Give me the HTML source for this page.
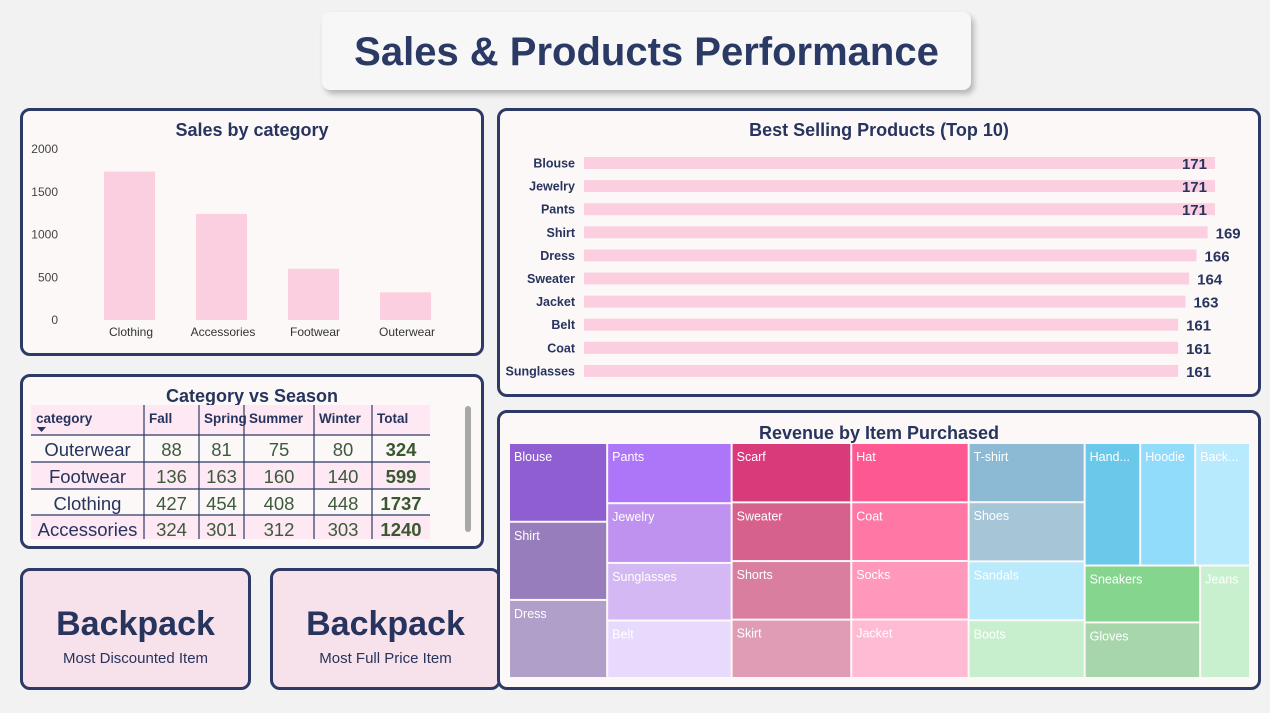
<!DOCTYPE html>
<html><head><meta charset="utf-8"><style>
body{margin:0;width:1270px;height:713px;background:#f2f2f2;font-family:"Liberation Sans",sans-serif;position:relative;overflow:hidden}
.panel{position:absolute;border:3px solid #2d3a66;border-radius:10px;background:#fdf8f8;box-sizing:border-box}
.ttl{position:absolute;left:0;right:0;text-align:center;font-weight:bold;color:#26345e;font-size:18px}
svg text{font-family:"Liberation Sans",sans-serif}
</style></head><body>
<div style="position:absolute;left:322px;top:12px;width:649px;height:78px;background:#f7f7f7;border-radius:8px;box-shadow:3px 4px 6px rgba(0,0,0,0.25);text-align:center;line-height:80px;font-size:40px;font-weight:bold;color:#2a3a64">Sales &amp; Products Performance</div>

<div class="panel" style="left:20px;top:108px;width:464px;height:248px">
<div class="ttl" style="top:9px">Sales by category</div></div>
<svg id="bar1" style="position:absolute;left:0;top:0" width="500" height="360"></svg>

<div class="panel" style="left:497px;top:108px;width:764px;height:289px">
<div class="ttl" style="top:9px">Best Selling Products (Top 10)</div></div>
<svg id="bar2" style="position:absolute;left:0;top:0" width="1270" height="400"></svg>

<div class="panel" style="left:20px;top:374px;width:464px;height:175px">
<div class="ttl" style="top:9px">Category vs Season</div></div>
<svg id="tbl" style="position:absolute;left:0;top:0" width="490" height="550"></svg>

<div class="panel" style="left:20px;top:568px;width:231px;height:122px;background:#f7e1ea;text-align:center">
<div style="margin-top:34px;font-size:34px;font-weight:bold;color:#26345e">Backpack</div>
<div style="margin-top:6px;font-size:15px;color:#26345e">Most Discounted Item</div></div>
<div class="panel" style="left:270px;top:568px;width:231px;height:122px;background:#f7e1ea;text-align:center">
<div style="margin-top:34px;font-size:34px;font-weight:bold;color:#26345e">Backpack</div>
<div style="margin-top:6px;font-size:15px;color:#26345e">Most Full Price Item</div></div>

<div class="panel" style="left:497px;top:410px;width:764px;height:280px">
<div class="ttl" style="top:10px">Revenue by Item Purchased</div></div>
<svg id="tm" style="position:absolute;left:0;top:0" width="1270" height="713"></svg>

<script>
const NS="http://www.w3.org/2000/svg";
function mk(p,t,a,txt){const e=document.createElementNS(NS,t);for(const k in a)e.setAttribute(k,a[k]);if(txt!==undefined)e.textContent=txt;p.appendChild(e);return e;}

// Sales by category
const catNames=["Clothing","Accessories","Footwear","Outerwear"];
const catSales=[1737,1240,599,324];
const yTicks=[0,500,1000,1500,2000];
(function(){const s=document.getElementById('bar1');const y=v=>320-v*171/2000;
yTicks.forEach(t=>{const e=mk(s,'text',{x:58,y:y(t)+4,'text-anchor':'end','font-size':12,fill:'#444'},t);});
catNames.forEach((c,i)=>{const x=104+i*92;const r=mk(s,'rect',{x:x,y:y(catSales[i]),width:51,height:320-y(catSales[i]),fill:'#fbcfe0'});

const l=mk(s,'text',{x:x+27,y:336,'text-anchor':'middle','font-size':12,fill:'#333'},c);});})();

// Best selling
const prodNames=["Blouse","Jewelry","Pants","Shirt","Dress","Sweater","Jacket","Belt","Coat","Sunglasses"];
const prodSales=[171,171,171,169,166,164,163,161,161,161];
(function(){const s=document.getElementById('bar2');const w=v=>v*631/171;
prodNames.forEach((p,i)=>{const yc=163+i*23.1;const end=584+w(prodSales[i]);
const r=mk(s,'rect',{x:584,y:yc-6,width:w(prodSales[i]),height:12,fill:'#fbcfe0'});
const l=mk(s,'text',{x:575,y:yc+4.5,'text-anchor':'end','font-size':12.5,fill:'#26345e','font-weight':'bold'},p);
const outside=end+40<1250;
const v=mk(s,'text',{x:outside?end+8:end-8,y:yc+6,'text-anchor':outside?'start':'end','font-size':15,'font-weight':'bold',fill:'#26345e'},prodSales[i]);});})();

// Table
const tHead=["category","Fall","Spring","Summer","Winter","Total"];
const tCats=["Outerwear","Footwear","Clothing","Accessories"];
const tFall=[88,136,427,324],tSpring=[81,163,454,301],tSummer=[75,160,408,312],tWinter=[80,140,448,303];
(function(){const s=document.getElementById('tbl');const cx=[31,144,199,244,314,372,430];const rows=[435,462,489,515,539];
mk(s,'rect',{x:31,y:405,width:399,height:30,fill:'#fde8f3'});
[1,3].forEach(i=>mk(s,'rect',{x:31,y:rows[i],width:399,height:rows[i+1]-rows[i],fill:'#fde8f3'}));
for(let i=1;i<6;i++)mk(s,'line',{x1:cx[i],y1:405,x2:cx[i],y2:539,stroke:'#2d3a66','stroke-width':1.2});
rows.slice(0,4).forEach(y=>mk(s,'line',{x1:31,y1:y,x2:430,y2:y,stroke:'#2d3a66','stroke-width':1.2}));
tHead.forEach((h,i)=>{const e=mk(s,'text',{x:cx[i]+5,y:423,'font-size':13.5,'font-weight':'bold',fill:'#26345e'},h);});
mk(s,'path',{d:'M37 427 L46 427 L41.5 432 Z',fill:'#26345e'});
tCats.forEach((c,r)=>{const y=rows[r]+21;const vals=[tFall[r],tSpring[r],tSummer[r],tWinter[r]];const tot=vals.reduce((a,b)=>a+b,0);
const e=mk(s,'text',{x:(cx[0]+cx[1])/2,y:y,'text-anchor':'middle','font-size':18.5,fill:'#26345e'},c);
vals.forEach((v,i)=>{const t=mk(s,'text',{x:(cx[i+1]+cx[i+2])/2,y:y,'text-anchor':'middle','font-size':18.5,fill:'#3d5a3d'},v);});
const t=mk(s,'text',{x:(cx[5]+cx[6])/2,y:y,'text-anchor':'middle','font-size':18.5,'font-weight':'bold',fill:'#38582f'},tot);});
mk(s,'rect',{x:31,y:539,width:400,height:7,fill:'#fdf8f8'});
const sb=mk(s,'rect',{x:465,y:406,width:6,height:126,rx:3,fill:'#a8a8a8'});})();

// Treemap
const tmCols=[["Blouse","Shirt","Dress"],["Pants","Jewelry","Sunglasses","Belt"],["Scarf","Sweater","Shorts","Skirt"],["Hat","Coat","Socks","Jacket"],["T-shirt","Shoes","Sandals","Boots"]];
const tmTop=["Handbag","Hoodie","Backpack"],tmBotLeft=["Sneakers","Gloves"],tmBotRight=["Jeans"];
const tmRevenue={Blouse:10410,Shirt:10332,Dress:10320,Pants:10090,Jewelry:10010,Sunglasses:9649,Belt:9635,Scarf:9561,Sweater:9462,Shorts:9433,Skirt:9402,Hat:9375,Coat:9275,Socks:9252,Jacket:9249,"T-shirt":9248,Shoes:9240,Sandals:9200,Boots:9018,Handbag:9175,Hoodie:9069,Backpack:9038,Sneakers:8853,Gloves:8646,Jeans:7548};
const tmColor={Blouse:'#8f5fd2',Shirt:'#987dbd',Dress:'#b09fc8',Pants:'#ad75f7',Jewelry:'#bf92f0',Sunglasses:'#d3b8f3',Belt:'#e8dafd',Scarf:'#d93a7a',Sweater:'#d7618d',Shorts:'#da7e9f',Skirt:'#e09cb4',Hat:'#fe5893',Coat:'#ff77a5',Socks:'#ff98bb',Jacket:'#ffbbd3','T-shirt':'#8cb9d3',Shoes:'#a6c6d8',Sandals:'#b8eafc',Boots:'#c7efcd',Handbag:'#6ac8ea',Hoodie:'#92dcfb',Backpack:'#b8eafd',Sneakers:'#86d58e',Gloves:'#a6d6aa',Jeans:'#c8f0cf'};
(function(){const s=document.getElementById('tm');const X0=509,Y0=443,W=741,H=235;
const sum=a=>a.reduce((t,n)=>t+tmRevenue[n],0);
const total=tmCols.reduce((t,c)=>t+sum(c),0)+sum(tmTop)+sum(tmBotLeft)+sum(tmBotRight);
function tile(n,x,y,w,h){const r=mk(s,'rect',{x:x+1,y:y+1,width:Math.max(0,w-2),height:Math.max(0,h-2),fill:tmColor[n]});
let lbl=n;if(w<60&&n.length>6)lbl=n.slice(0,4)+'...';
const t=mk(s,'text',{x:x+5,y:y+18,'font-size':12.5,fill:'#fff'},lbl);}
function vert(items,x,y,w,h){const tt=sum(items);let yy=y;items.forEach(n=>{const hh=h*tmRevenue[n]/tt;tile(n,x,yy,w,hh);yy+=hh;});}
function horiz(items,x,y,w,h){const tt=sum(items);let xx=x;items.forEach(n=>{const ww=w*tmRevenue[n]/tt;tile(n,xx,y,ww,h);xx+=ww;});}
let x=X0;tmCols.forEach(c=>{const w=W*sum(c)/total;vert(c,x,Y0,w,H);x+=w;});
const lw=X0+W-x;const lt=sum(tmTop)+sum(tmBotLeft)+sum(tmBotRight);const th=H*sum(tmTop)/lt;
horiz(tmTop,x,Y0,lw,th);const bt=sum(tmBotLeft)+sum(tmBotRight);const blw=lw*sum(tmBotLeft)/bt;
vert(tmBotLeft,x,Y0+th,blw,H-th);vert(tmBotRight,x+blw,Y0+th,lw-blw,H-th);})();
</script>
</body></html>
